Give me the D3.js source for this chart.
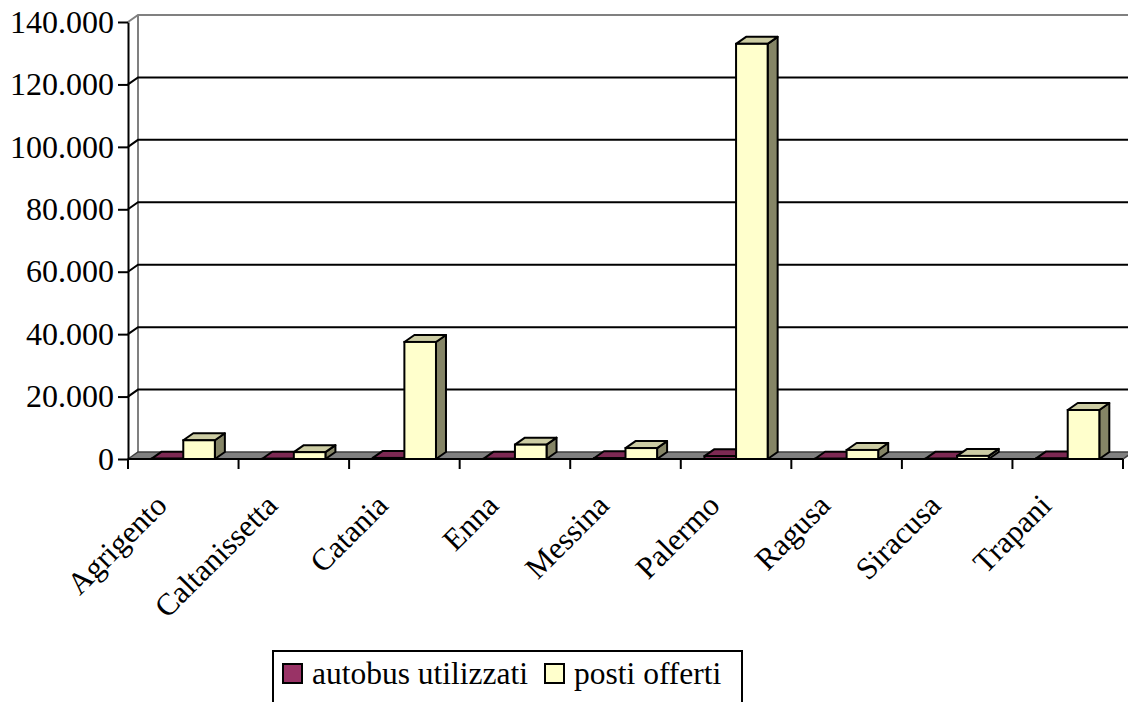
<!DOCTYPE html>
<html>
<head>
<meta charset="utf-8">
<script src="https://cdn.jsdelivr.net/npm/d3@7"></script>
<style>
  body { margin: 0; background: #fff; }
  svg { display: block; font-family: "Liberation Serif", "Times New Roman", serif; }
</style>
</head>
<body>
<svg id="chart"></svg>
<script>
// data
const categories = ["Agrigento", "Caltanissetta", "Catania", "Enna", "Messina", "Palermo", "Ragusa", "Siracusa", "Trapani"];
const seriesNames = ["autobus utilizzati", "posti offerti"];
const autobus = [120, 80, 350, 60, 250, 900, 90, 110, 180];
const posti = [6000, 2200, 37500, 4600, 3500, 133000, 2900, 1000, 15700];
const yTicks = [0, 20000, 40000, 60000, 80000, 100000, 120000, 140000];

const width = 1128;
const height = 702;
const plotLeft = 128, plotRight = 1123, plotTop = 22, plotBottom = 459;
const dx = 10, dy = 7; // 3d depth offset
const serif = '"Liberation Serif", "Times New Roman", serif';

const colors = {
  "autobus utilizzati": { front: "#993366", top: "#7d2953", side: "#5c1f3d" },
  "posti offerti": { front: "#ffffcc", top: "#cccca3", side: "#858566" }
};

const svg = d3.select('#chart')
  .attr('width', width)
  .attr('height', height);

const x = d3.scaleBand()
  .domain(categories)
  .range([plotLeft, plotRight])
  .padding(0);

const xSub = d3.scaleBand()
  .domain(seriesNames)
  .range([0, x.bandwidth()])
  .paddingInner(0)
  .paddingOuter(0.75);

const y = d3.scaleLinear()
  .domain([0, 140000])
  .range([plotBottom, plotTop]);

const it = d3.formatLocale({ decimal: ",", thousands: ".", grouping: [3], currency: ["", "€"] });
const fmt = it.format(",.0f");

// back wall edges
svg.append('path')
  .attr('d', `M${plotLeft},${plotTop} L${plotLeft + dx},${plotTop - dy} L${width + 5},${plotTop - dy} M${plotLeft + dx},${plotTop - dy} L${plotLeft + dx},${plotBottom - dy}`)
  .attr('fill', 'none')
  .attr('stroke', '#808080')
  .attr('stroke-width', 2);

// gridlines (side wall stub + back wall)
svg.append('g')
  .selectAll('path')
  .data(yTicks.filter(d => d > 0 && d < 140000))
  .enter().append('path')
  .attr('d', d => `M${plotLeft},${y(d)} L${plotLeft + dx},${y(d) - dy} L${width + 5},${y(d) - dy}`)
  .attr('fill', 'none')
  .attr('stroke', '#000')
  .attr('stroke-width', 2);

// floor
svg.append('path')
  .attr('d', `M${plotLeft},${plotBottom} L${plotLeft + dx},${plotBottom - dy} L${plotRight + dx},${plotBottom - dy} L${plotRight},${plotBottom} Z`)
  .attr('fill', '#808080')
  .attr('stroke', '#404040')
  .attr('stroke-width', 1.5);

// bars
const rows = [];
categories.forEach((c, i) => {
  rows.push({ cat: c, s: seriesNames[0], v: autobus[i] });
  rows.push({ cat: c, s: seriesNames[1], v: posti[i] });
});

const bars = svg.append('g').selectAll('g')
  .data(rows)
  .enter().append('g');

bars.each(function (d) {
  const g = d3.select(this);
  const x0 = x(d.cat) + xSub(d.s);
  const x1 = x0 + xSub.bandwidth();
  const y0 = y(0);
  const y1 = y(d.v);
  const col = colors[d.s];
  // side
  g.append('path')
    .attr('d', `M${x1},${y1} L${x1 + dx},${y1 - dy} L${x1 + dx},${y0 - dy} L${x1},${y0} Z`)
    .attr('fill', col.side).attr('stroke', '#000').attr('stroke-width', 2).attr('stroke-linejoin', 'round');
  // top
  g.append('path')
    .attr('d', `M${x0},${y1} L${x0 + dx},${y1 - dy} L${x1 + dx},${y1 - dy} L${x1},${y1} Z`)
    .attr('fill', col.top).attr('stroke', '#000').attr('stroke-width', 2).attr('stroke-linejoin', 'round');
  // front
  g.append('rect')
    .attr('x', x0).attr('y', y1)
    .attr('width', x1 - x0).attr('height', Math.max(0, y0 - y1))
    .attr('fill', col.front).attr('stroke', '#000').attr('stroke-width', 2);
});

// y axis
const yAxis = svg.append('g')
  .attr('transform', `translate(${plotLeft},0)`)
  .call(d3.axisLeft(y).tickValues(yTicks).tickSize(10).tickSizeOuter(0).tickPadding(4).tickFormat(fmt))
  .attr('font-family', serif)
  .attr('font-size', 32);
yAxis.select('.domain').attr('stroke', '#000').attr('stroke-width', 2);
yAxis.selectAll('.tick line').attr('stroke', '#000').attr('stroke-width', 2);
yAxis.selectAll('.tick text').attr('fill', '#000');

// x axis line and ticks at band boundaries
svg.append('line')
  .attr('x1', plotLeft).attr('x2', plotRight)
  .attr('y1', plotBottom).attr('y2', plotBottom)
  .attr('stroke', '#000').attr('stroke-width', 2);
const bounds = categories.map(c => x(c)).concat([x.range()[1]]);
svg.append('g').selectAll('line')
  .data(bounds)
  .enter().append('line')
  .attr('x1', d => d).attr('x2', d => d)
  .attr('y1', plotBottom).attr('y2', plotBottom + 10)
  .attr('stroke', '#000').attr('stroke-width', 2);

// category labels
svg.append('g').selectAll('text')
  .data(categories)
  .enter().append('text')
  .attr('transform', d => `translate(${x(d) + x.bandwidth() / 2 - 30},${plotBottom + 33}) rotate(-45)`)
  .attr('text-anchor', 'end')
  .attr('dy', '0.7em')
  .style('font-size', '31px')
  .text(d => d);

// legend
const legend = svg.append('g');
legend.append('rect')
  .attr('x', 273).attr('y', 651)
  .attr('width', 469).attr('height', 60)
  .attr('fill', '#fff').attr('stroke', '#000').attr('stroke-width', 2);
const legendX = [283, 545];
seriesNames.forEach((s, i) => {
  legend.append('rect')
    .attr('x', legendX[i]).attr('y', 664)
    .attr('width', 19).attr('height', 19)
    .attr('fill', colors[s].front).attr('stroke', '#000').attr('stroke-width', 2);
  legend.append('text')
    .attr('x', legendX[i] + 29).attr('y', 684)
    .style('font-size', '31.5px')
    .text(s);
});
</script>
</body>
</html>
